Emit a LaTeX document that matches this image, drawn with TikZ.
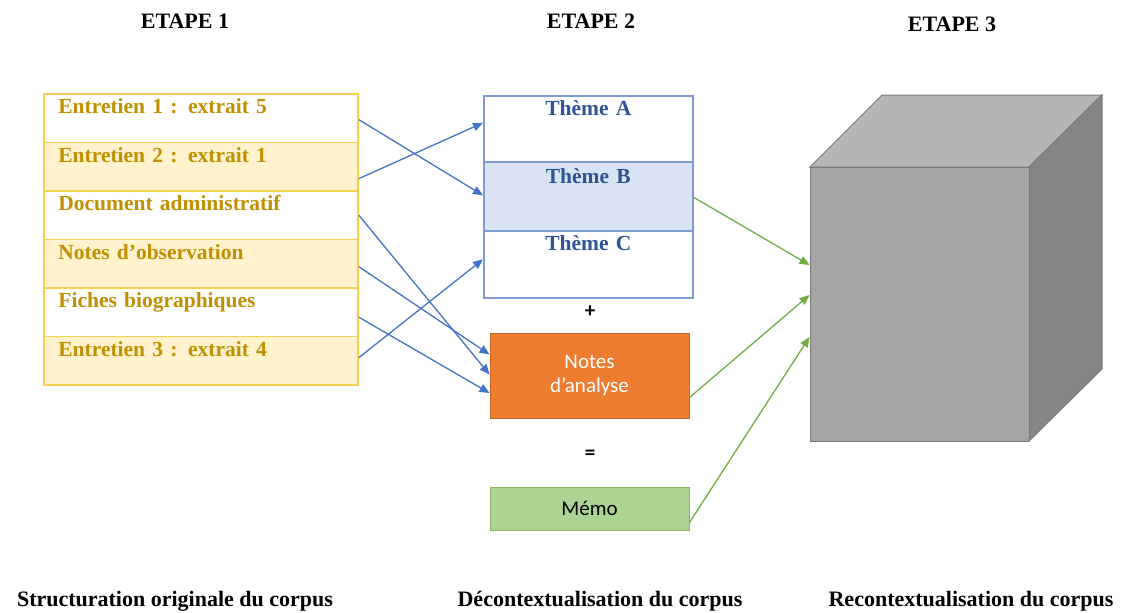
\documentclass[tikz,border=0pt]{standalone}
\usepackage{fontspec}
\setmainfont{Liberation Serif}
\newfontfamily\calfont{Carlito}
\usetikzlibrary{arrows.meta,calc}
\definecolor{goldline}{HTML}{F7D04E}
\definecolor{goldtext}{HTML}{BF9000}
\definecolor{goldfill}{HTML}{FFF2CC}
\definecolor{blueline}{HTML}{7F9BD3}
\definecolor{bluetext}{HTML}{2F5597}
\definecolor{bluefill}{HTML}{DAE3F3}
\definecolor{arrowblue}{HTML}{4472C4}
\definecolor{arrowgreen}{HTML}{70AD47}
\definecolor{orangefill}{HTML}{ED7D31}
\definecolor{orangeline}{HTML}{C9651F}
\definecolor{memofill}{HTML}{ADD393}
\definecolor{memoline}{HTML}{84BA62}
\definecolor{cubefront}{HTML}{A5A5A5}
\definecolor{cubetop}{HTML}{B5B5B5}
\definecolor{cuberight}{HTML}{868686}
\definecolor{cubeline}{HTML}{7A7A7A}
\tikzset{
  heading/.style={anchor=base, font=\fontsize{22}{24}\selectfont\bfseries, inner sep=0},
  rowbox/.style={draw=goldline, line width=1.8pt, anchor=north west, inner ysep=0, inner xsep=14pt,
     text width=285pt, align=left, text height=20pt, text depth=28.5pt, minimum width=314pt,
     text=goldtext, font=\fontsize{21.5}{24}\selectfont\bfseries},
  themebox/.style={draw=blueline, line width=1.6pt, anchor=north west, inner ysep=0, inner xsep=0,
     minimum width=209pt, text width=209pt, align=center, text=bluetext,
     font=\fontsize{21.5}{24}\selectfont\bfseries},
  bluearrow/.style={draw=arrowblue, line width=1.3pt, -{Triangle[length=10pt,width=8.5pt]}},
  greenarrow/.style={draw=arrowgreen, line width=1.3pt, -{Triangle[length=10pt,width=8.5pt]}},
  sidebox/.style={minimum width=199pt, inner sep=0, font=\calfont\fontsize{21}{25}\selectfont, align=center},
  op/.style={font=\calfont\fontsize{21}{22}\selectfont\bfseries, inner sep=0}
}
\begin{document}
\begin{tikzpicture}[x=1pt,y=-1pt]
\useasboundingbox (0,0) rectangle (1127,613);
% headings
\node[heading] (h1) at (185,28) {ETAPE 1};
\node[heading] (h2) at (591,28) {ETAPE 2};
\node[heading] (h3) at (952,31) {ETAPE 3};
\node[heading] (f1) at (175,606) {Structuration originale du corpus};
\node[heading] (f2) at (600,606) {Décontextualisation du corpus};
\node[heading] (f3) at (971,606) {Recontextualisation du corpus};
% left column
\node[rowbox, fill=white]    (r1) at (43,93)    {Entretien 1 : extrait 5};
\node[rowbox, fill=goldfill] (r2) at (43,141.5) {Entretien 2 : extrait 1};
\node[rowbox, fill=white]    (r3) at (43,190)   {Document administratif};
\node[rowbox, fill=goldfill] (r4) at (43,238.5) {Notes d’observation};
\node[rowbox, fill=white]    (r5) at (43,287)   {Fiches biographiques};
\node[rowbox, fill=goldfill] (r6) at (43,335.5) {Entretien 3 : extrait 4};
% themes
\node[themebox, fill=white,    text height=20pt, text depth=46pt] (ta) at (483,95)  {Thème A};
\node[themebox, fill=bluefill, text height=22pt, text depth=47pt] (tb) at (483,161) {Thème B};
\node[themebox, fill=white,    text height=20pt, text depth=47pt] (tc) at (483,230) {Thème C};
\node[op] (plus) at (590,312) {+};
\node[sidebox, fill=orangefill, draw=orangeline, line width=1pt, minimum height=85pt, text=white] (na) at (589.5,375.5) {Notes\\[-1pt]d’analyse};
\node[op] (eq) at (590,455) {=};
\node[sidebox, fill=memofill, draw=memoline, line width=1pt, minimum height=43pt, text=black] (memo) at (589.5,508.5) {Mémo};
% cube
\fill[cubetop, draw=cubeline, line width=1pt] (810,167) -- (882,95) -- (1102,95) -- (1029,167) -- cycle;
\fill[cuberight, draw=cubeline, line width=1pt] (1029,167) -- (1102,95) -- (1102,369) -- (1029,441) -- cycle;
\node[fill=cubefront, draw=cubeline, line width=1pt, minimum width=219pt, minimum height=274pt, inner sep=0] (cube) at (919.5,304) {};
% blue arrows
\draw[bluearrow] ($(r1.east)+(0,1.5)$) -- ($(tb.west)+(0,-1)$);
\draw[bluearrow] ($(r2.east)+(0,12)$) -- ($(ta.west)+(0,-6)$);
\draw[bluearrow] ($(r3.east)+(0,0)$) -- ($(na.west)+(0,-1)$);
\draw[bluearrow] ($(r4.east)+(0,3)$) -- ($(na.west)+(0,-21)$);
\draw[bluearrow] ($(r5.east)+(0,5)$) -- ($(na.west)+(0,17.5)$);
\draw[bluearrow] ($(r6.east)+(0,-3)$) -- ($(tc.west)+(0,-5)$);
% green arrows
\draw[greenarrow] ($(tb.east)+(0,1)$) -- ($(cube.west)+(0,-39)$);
\draw[greenarrow] ($(na.east)+(0,22)$) -- ($(cube.west)+(0,-9)$);
\draw[greenarrow] ($(memo.east)+(0,14)$) -- ($(cube.west)+(0,33)$);
\end{tikzpicture}
\end{document}
